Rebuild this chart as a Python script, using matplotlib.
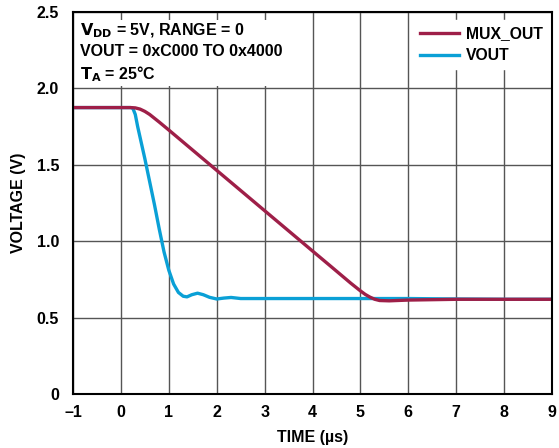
import matplotlib
matplotlib.use("Agg")
import matplotlib.pyplot as plt

# valeurs
mux_x = [-1, 0, 0.2, 0.3, 0.4, 0.5, 0.6, 0.8, 1.0, 2.0, 3.0, 4.0, 4.35, 4.8, 5.0,
         5.1, 5.2, 5.3, 5.4, 5.6, 6, 7, 8, 9]
mux_y = [1.875, 1.875, 1.875, 1.873, 1.865, 1.85, 1.83, 1.78, 1.728, 1.464, 1.2,
         0.936, 0.844, 0.725, 0.675, 0.652, 0.634, 0.62, 0.612, 0.61, 0.615, 0.62,
         0.62, 0.62]

vout_x = [-1, 0, 0.2, 0.25, 0.3, 0.35, 0.4, 0.5, 0.6, 0.7, 0.8, 0.9, 1.0, 1.1, 1.2,
          1.3, 1.38, 1.48, 1.6, 1.72, 1.85, 2.0, 2.15, 2.3, 2.5, 3, 4, 5, 6, 7, 8, 9]
vout_y = [1.875, 1.875, 1.875, 1.87, 1.83, 1.75, 1.68, 1.54, 1.39, 1.24, 1.08, 0.93,
          0.81, 0.72, 0.665, 0.64, 0.636, 0.65, 0.66, 0.65, 0.633, 0.622, 0.628,
          0.632, 0.625, 0.625, 0.625, 0.625, 0.625, 0.622, 0.62, 0.62]

plt.rcParams['font.family'] = ['Liberation Sans', 'DejaVu Sans']
plt.rcParams['font.weight'] = 'bold'

fig = plt.figure(figsize=(5.59, 4.48), dpi=100)
ax = fig.add_axes([0.1306, 0.1205, 0.857, 0.8525])

ax.plot(mux_x, mux_y, color='#9E1F48', lw=2.4, label='MUX_OUT', zorder=3)
ax.plot(vout_x, vout_y, color='#0AA0D6', lw=2.4, label='VOUT', zorder=2)

ax.set_xlim(-1, 9)
ax.set_ylim(0, 2.5)
ax.set_xticks(range(-1, 10))
ax.set_xticklabels(['\u20131'] + [str(i) for i in range(0, 10)])
ax.set_yticks([0, 0.5, 1.0, 1.5, 2.0, 2.5])
ax.set_yticklabels(['0', '0.5', '1.0', '1.5', '2.0', '2.5'])
ax.tick_params(axis='both', length=0, labelsize=11.5)
ax.tick_params(axis='y', pad=10)
ax.tick_params(axis='x', pad=8)
ax.grid(True, color='#555555', lw=1)
for s in ax.spines.values():
    s.set_linewidth(1.5)
    s.set_zorder(4)

ax.set_xlabel('TIME (\u00b5s)', fontsize=11.5, fontweight='bold', labelpad=7)
ax.set_ylabel('VOLTAGE (V)', fontsize=11.5, fontweight='bold', labelpad=8)

ax.text(0.015, 0.975, '$\\mathbf{V_{DD}}$ = 5V, RANGE = 0\nVOUT = 0xC000 TO 0x4000\n$\\mathbf{T_{A}}$ = 25\u00b0C',
        transform=ax.transAxes, va='top', ha='left', fontsize=11.5, fontweight='bold',
        linespacing=1.35, zorder=5,
        bbox=dict(facecolor='white', edgecolor='none', pad=1.5))

leg = ax.legend(loc='upper right', bbox_to_anchor=(0.994, 0.98), frameon=True,
                fontsize=11.3, handlelength=2.5, borderaxespad=0,
                labelspacing=0.45, handletextpad=0.45)
leg.get_frame().set_edgecolor('white')
leg.get_frame().set_facecolor('white')
leg.get_frame().set_alpha(1)

plt.savefig('out.png', dpi=100)
